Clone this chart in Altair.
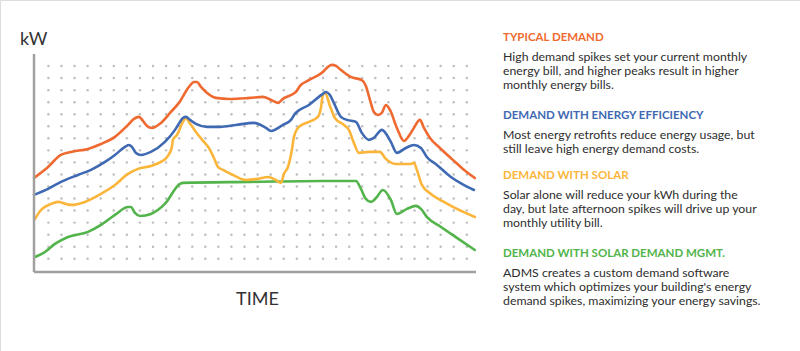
import altair as alt
import pandas as pd

# ---------------- data (grid units: x = time, y = demand) ----------------
orange_x = [-1.10, -0.11, 0.96, 1.73, 3.03, 4.02, 5.09, 6.09, 6.54, 6.93, 7.23, 7.54, 7.92, 8.61, 9.37, 9.98,
            10.75, 11.13, 11.36, 11.67, 12.05, 12.81, 13.88, 15.41, 16.41, 17.17, 17.55, 17.93, 18.93, 19.24,
            19.92, 20.99, 21.38, 21.68, 21.99, 22.37, 23.13, 23.97, 24.28, 24.59, 24.89, 25.20, 25.50, 25.81,
            26.12, 26.65, 27.19, 27.57, 27.95, 28.41, 28.72, 29.18, 29.94, 30.93, 31.70, 32.61]
orange_y = [6.71, 7.54, 8.62, 8.87, 9.12, 9.53, 10.12, 11.11, 11.61, 11.78, 11.45, 11.03, 10.86, 11.28, 12.19, 12.94,
            14.27, 14.68, 14.68, 14.27, 13.85, 13.36, 13.27, 13.36, 13.44, 13.11, 12.94, 13.27, 13.85, 14.35,
            14.83, 15.51, 15.93, 16.10, 16.01, 15.68, 15.10, 14.83, 14.35, 13.19, 12.19, 11.94, 12.11, 12.77,
            12.36, 10.86, 9.78, 10.20, 10.86, 11.53, 10.86, 10.03, 9.20, 8.21, 7.46, 6.71]

blue_x = [-1.10, -0.03, 0.96, 2.26, 3.26, 4.33, 5.09, 5.86, 6.16, 6.39, 6.70, 7.08, 7.84, 8.91, 9.68, 10.06,
          10.29, 10.52, 10.83, 11.28, 12.13, 13.12, 14.34, 15.72, 16.64, 17.02, 17.93, 18.55, 18.85, 19.92,
          20.99, 21.22, 21.53, 21.83, 22.37, 22.83, 23.52, 23.97, 24.51, 24.89, 25.50, 26.19, 26.65, 27.34,
          27.95, 28.49, 28.94, 29.71, 30.78, 31.62, 32.54]
blue_y = [5.30, 5.80, 6.38, 6.96, 7.38, 8.04, 8.62, 9.29, 9.45, 9.29, 8.79, 8.62, 8.87, 9.70, 10.70, 11.36,
          11.69, 11.78, 11.53, 11.20, 10.95, 10.95, 11.11, 11.28, 10.86, 10.61, 11.11, 11.53, 12.03, 12.77,
          13.69, 13.85, 13.60, 12.94, 11.78, 11.53, 11.36, 10.45, 9.87, 10.03, 10.70, 9.70, 8.79, 9.20,
          9.45, 9.20, 8.45, 7.79, 6.79, 6.21, 5.71]

yellow_x = [-1.02, -0.57, 0.20, 0.73, 1.73, 2.80, 4.02, 5.09, 6.09, 6.85, 7.84, 8.61, 9.14, 9.45, 9.52, 9.83,
            10.29, 10.52, 10.75, 11.28, 11.90, 12.28, 12.66, 12.97, 13.35, 14.11, 15.11, 16.02, 16.79, 17.40,
            17.78, 18.01, 18.32, 18.62, 18.78, 19.16, 19.92, 20.61, 20.84, 20.99, 21.15, 21.53, 21.91, 22.60,
            22.98, 23.36, 23.74, 24.51, 25.35, 25.81, 26.57, 27.72, 27.95, 28.18, 28.56, 29.25, 30.24, 31.24,
            32.61]
yellow_y = [3.31, 4.05, 4.55, 4.72, 4.47, 4.72, 5.38, 6.13, 7.04, 7.46, 7.71, 8.04, 8.54, 9.29, 9.87, 10.28,
            11.36, 11.69, 11.36, 10.53, 9.70, 9.20, 8.37, 7.62, 7.38, 6.96, 6.54, 6.63, 6.79, 6.54,
            6.30, 7.04, 7.62, 9.03, 10.12, 10.95, 11.36, 11.78, 12.52, 13.60, 13.77, 12.69, 11.69, 11.11,
            10.70, 9.62, 8.79, 8.87, 8.87, 8.29, 7.87, 7.87, 7.96, 7.38, 6.13, 5.38, 4.72, 4.14,
            3.47]

green_x = [-1.02, -0.26, 0.50, 1.50, 3.03, 4.02, 5.09, 6.09, 6.31, 6.62, 7.00, 7.84, 8.91, 10.06, 10.29, 15.41,
           20.99, 23.52, 23.90, 24.28, 24.66, 25.12, 25.58, 26.19, 26.65, 27.42, 28.10, 28.49, 28.94, 30.02,
           31.24, 32.61]
green_y = [0.15, 0.56, 1.23, 1.81, 2.23, 2.81, 3.64, 4.30, 4.30, 3.80, 3.55, 3.72, 4.55, 6.21, 6.30, 6.38,
           6.46, 6.46, 5.80, 4.97, 4.72, 5.13, 5.71, 4.88, 3.72, 4.14, 4.39, 4.14, 3.47, 2.64,
           1.73, 0.73]

headings = ["TYPICAL DEMAND", "DEMAND WITH ENERGY EFFICIENCY", "DEMAND WITH SOLAR",
            "DEMAND WITH SOLAR DEMAND MGMT."]
bodies = [
    ["High demand spikes set your current monthly",
     "energy bill, and higher peaks result in higher",
     "monthly energy bills."],
    ["Most energy retrofits reduce energy usage, but",
     "still leave high energy demand costs."],
    ["Solar alone will reduce your kWh during the",
     "day, but late afternoon spikes will drive up your",
     "monthly utility bill."],
    ["ADMS creates a custom demand software",
     "system which optimizes your building's energy",
     "demand spikes, maximizing your energy savings."],
]
y_label = "kW"
x_label = "TIME"

# ---------------- styling / layout ----------------
COLORS = ["#EF6A30", "#3F69B2", "#FBB53A", "#52B44B"]
FONT = "Lato"
X_DOM = [-1.1, 32.7]
Y_DOM = [-1.1, 17.0]
X_RANGE = [34, 476]
Y_RANGE = [272, 54]
xs = alt.Scale(domain=X_DOM, range=X_RANGE)
ys = alt.Scale(domain=Y_DOM, range=Y_RANGE)

# dot grid
grid = pd.DataFrame([(i, j) for i in range(33) for j in range(17)], columns=["x", "y"])
dots = alt.Chart(grid).mark_circle(size=6, color="#BDBDBD", opacity=1).encode(
    x=alt.X("x:Q", scale=xs, axis=None), y=alt.Y("y:Q", scale=ys, axis=None))

# axes lines
ax_df = pd.DataFrame({"x": [X_DOM[0], X_DOM[0]], "y": [Y_DOM[0], Y_DOM[0]],
                      "x2": [X_DOM[0], X_DOM[1]], "y2": [Y_DOM[1], Y_DOM[0]]})
axes = alt.Chart(ax_df).mark_rule(color="#A0A0A0", strokeWidth=2.5).encode(
    x=alt.X("x:Q", scale=xs, axis=None), y=alt.Y("y:Q", scale=ys, axis=None),
    x2="x2:Q", y2="y2:Q")

series = [(green_x, green_y, COLORS[3]), (yellow_x, yellow_y, COLORS[2]),
          (blue_x, blue_y, COLORS[1]), (orange_x, orange_y, COLORS[0])]
lines = []
for sx, sy, c in series:
    df = pd.DataFrame({"t": sx, "v": sy, "o": range(len(sx))})
    lines.append(alt.Chart(df).mark_line(color=c, strokeWidth=2.6, interpolate="monotone",
                                         strokeCap="round", strokeJoin="round").encode(
        x=alt.X("t:Q", scale=xs, axis=None), y=alt.Y("v:Q", scale=ys, axis=None), order="o:Q"))

# labels
lab_df = pd.DataFrame({"text": [y_label, x_label], "px": [20, 257.5], "py": [45, 305]})
lab1 = alt.Chart(lab_df.iloc[[0]]).mark_text(font=FONT, fontSize=18, color="#333333", align="left",
                                              baseline="alphabetic").encode(
    x=alt.X("px:Q", scale=None), y=alt.Y("py:Q", scale=None), text="text:N")
lab2 = alt.Chart(lab_df.iloc[[1]]).mark_text(font=FONT, fontSize=18, color="#333333", align="center",
                                              baseline="alphabetic").encode(
    x=alt.X("px:Q", scale=None), y=alt.Y("py:Q", scale=None), text="text:N")

# right-hand text
head_base = [41, 119, 179, 257]
TX = 503
h_rows, b_rows = [], []
for k, (h, body) in enumerate(zip(headings, bodies)):
    h_rows.append({"text": h, "px": TX, "py": head_base[k], "c": COLORS[k]})
    for m, line in enumerate(body):
        b_rows.append({"text": line, "px": TX, "py": head_base[k] + 20 + 14 * m})
head_txt = alt.Chart(pd.DataFrame(h_rows)).mark_text(font=FONT, fontSize=11.5, fontWeight="bold",
                                                     align="left", baseline="alphabetic").encode(
    x=alt.X("px:Q", scale=None), y=alt.Y("py:Q", scale=None), text="text:N",
    color=alt.Color("c:N", scale=None))
body_txt = alt.Chart(pd.DataFrame(b_rows)).mark_text(font=FONT, fontSize=12.3, color="#2E2E2E",
                                                     align="left", baseline="alphabetic").encode(
    x=alt.X("px:Q", scale=None), y=alt.Y("py:Q", scale=None), text="text:N")

chart = alt.layer(dots, *lines, axes, lab1, lab2, head_txt, body_txt).properties(
    width=800, height=351, padding=0, autosize="none"
).configure_view(stroke=None).configure(background="white")

chart.save("out.html", embed_options={"renderer": "svg", "actions": False})
